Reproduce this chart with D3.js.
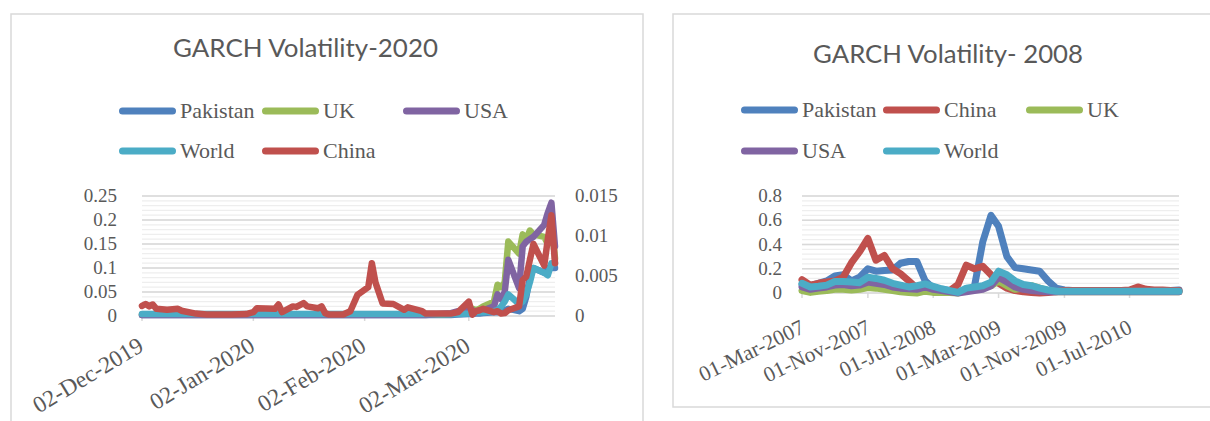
<!DOCTYPE html>
<html>
<head>
<meta charset="utf-8">
<script src="https://cdn.jsdelivr.net/npm/d3@7"></script>
<style>
  html, body { margin: 0; padding: 0; background: #fff; }
  svg { display: block; }
</style>
</head>
<body>
<svg id="chart" width="1210" height="421"></svg>
<script>
// ---------- GARCH volatility, COVID period (daily, Dec 2019 – Mar 2020) ----------
const covidDates = [
  "2019-12-02","2019-12-03","2019-12-04","2019-12-05","2019-12-06","2019-12-09","2019-12-12","2019-12-13",
  "2019-12-17","2019-12-20","2019-12-27","2019-12-31","2020-01-02","2020-01-03","2020-01-08","2020-01-09",
  "2020-01-10","2020-01-13","2020-01-14","2020-01-16","2020-01-17","2020-01-20","2020-01-21","2020-01-22",
  "2020-01-23","2020-01-27","2020-01-29","2020-01-31","2020-02-03","2020-02-04","2020-02-05","2020-02-07",
  "2020-02-10","2020-02-13","2020-02-14","2020-02-18","2020-02-19","2020-02-26","2020-02-28","2020-03-02",
  "2020-03-03","2020-03-04","2020-03-05","2020-03-06","2020-03-09","2020-03-10","2020-03-11","2020-03-12",
  "2020-03-13","2020-03-16","2020-03-17","2020-03-18","2020-03-19","2020-03-20","2020-03-23","2020-03-24",
  "2020-03-25","2020-03-26"
];
const covidPakistan = [
  0.002,0.002,0.002,0.002,0.002,0.002,0.002,0.002,0.002,0.002,0.002,0.002,0.002,0.002,0.002,0.002,
  0.002,0.002,0.002,0.002,0.002,0.002,0.002,0.002,0.002,0.002,0.002,0.002,0.002,0.002,0.002,0.002,
  0.002,0.002,0.002,0.002,0.002,0.002,0.003,0.004,0.004,0.005,0.005,0.006,0.008,0.008,0.010,0.012,
  0.015,0.010,0.015,0.040,0.080,0.100,0.090,0.100,0.100,0.100
];
const covidUK = [
  0.003,0.003,0.003,0.003,0.003,0.003,0.003,0.003,0.003,0.003,0.003,0.003,0.003,0.003,0.003,0.003,
  0.003,0.003,0.003,0.003,0.003,0.003,0.003,0.003,0.003,0.003,0.003,0.003,0.003,0.003,0.003,0.003,
  0.003,0.003,0.003,0.003,0.003,0.004,0.006,0.012,0.015,0.012,0.015,0.020,0.030,0.065,0.060,0.070,
  0.155,0.130,0.170,0.160,0.178,0.170,0.165,0.150,0.200,0.120
];
const covidUSA = [
  0.002,0.002,0.002,0.002,0.002,0.002,0.002,0.002,0.002,0.002,0.002,0.002,0.002,0.002,0.002,0.002,
  0.002,0.002,0.002,0.002,0.002,0.002,0.002,0.002,0.002,0.002,0.002,0.002,0.002,0.002,0.002,0.002,
  0.002,0.002,0.002,0.002,0.002,0.006,0.010,0.010,0.012,0.008,0.010,0.012,0.020,0.045,0.035,0.050,
  0.117,0.058,0.145,0.155,0.160,0.165,0.190,0.215,0.236,0.145
];
const covidWorld = [
  0.004,0.004,0.004,0.004,0.004,0.004,0.004,0.004,0.004,0.004,0.004,0.004,0.004,0.004,0.004,0.004,
  0.004,0.004,0.004,0.004,0.004,0.004,0.004,0.004,0.004,0.004,0.004,0.004,0.004,0.004,0.004,0.004,
  0.004,0.004,0.004,0.004,0.004,0.004,0.004,0.005,0.008,0.008,0.008,0.008,0.010,0.012,0.020,0.030,
  0.045,0.025,0.030,0.045,0.070,0.100,0.090,0.085,0.110,0.110
];
// China is plotted against the secondary (right-hand) axis
const covidChina = [
  0.00126,0.0015,0.0012,0.00144,0.0009,0.00078,0.0009,0.00066,0.0003,0.00018,0.00018,0.00024,
  0.00048,0.00096,0.0009,0.00144,0.00048,0.0012,0.00114,0.00162,0.0012,0.00096,0.0012,0.00036,
  0.00018,0.00018,0.0006,0.00264,0.0036,0.0066,0.0042,0.00156,0.0015,0.00078,0.00108,0.0006,
  0.0003,0.0003,0.00048,0.0018,0.00018,0.0006,0.00072,0.0009,0.00048,0.0006,0.0003,0.00036,
  0.00072,0.0012,0.0045,0.00492,0.00702,0.009,0.0063,0.0096,0.0126,0.0066
];
const covidDateTicks = ["2019-12-02","2020-01-02","2020-02-02","2020-03-02"];
const covidPrimaryTicks = [0, 0.05, 0.1, 0.15, 0.2, 0.25];
const covidSecondaryTicks = [0, 0.005, 0.01, 0.015];

// ---------- GARCH volatility, global financial crisis (monthly, 2007 – 2010) ----------
const gfcDates = [
  "2007-03-01","2007-04-01","2007-05-01","2007-06-01","2007-07-01","2007-08-01","2007-09-01","2007-10-01",
  "2007-11-01","2007-12-01","2008-01-01","2008-02-01","2008-03-01","2008-04-01","2008-05-01","2008-06-01",
  "2008-07-01","2008-08-01","2008-09-01","2008-10-01","2008-11-01","2008-12-01","2009-01-01","2009-02-01",
  "2009-03-01","2009-04-01","2009-05-01","2009-06-01","2009-07-01","2009-08-01","2009-09-01","2009-10-01",
  "2009-11-01","2009-12-01","2010-01-01","2010-02-01","2010-03-01","2010-04-01","2010-05-01","2010-06-01",
  "2010-07-01","2010-08-01","2010-09-01","2010-10-01","2010-11-01","2010-12-01","2011-01-01"
];
const gfcPakistan = [
  0.07,0.06,0.08,0.10,0.14,0.15,0.10,0.13,0.20,0.18,0.185,0.19,0.245,0.26,0.26,0.10,
  0.04,0.03,0.02,0.01,0.02,0.05,0.42,0.64,0.55,0.30,0.21,0.20,0.19,0.18,0.10,0.04,
  0.025,0.02,0.02,0.02,0.02,0.02,0.02,0.02,0.02,0.02,0.02,0.02,0.02,0.02,0.025
];
const gfcChina = [
  0.11,0.065,0.08,0.09,0.10,0.13,0.25,0.34,0.45,0.27,0.31,0.20,0.16,0.10,0.04,0.02,
  0.01,0.005,0.02,0.07,0.23,0.20,0.22,0.15,0.08,0.04,0.02,0.01,0.005,0.0,0.005,0.01,
  0.02,0.02,0.02,0.02,0.02,0.02,0.02,0.02,0.025,0.05,0.03,0.025,0.025,0.02,0.02
];
const gfcUK = [
  0.02,0.005,0.015,0.02,0.03,0.03,0.025,0.03,0.045,0.04,0.03,0.02,0.01,0.005,0.0,0.015,
  0.005,0.005,0.005,0.0,0.03,0.03,0.04,0.06,0.10,0.06,0.03,0.04,0.06,0.04,0.02,0.01,
  0.01,0.01,0.01,0.01,0.01,0.01,0.01,0.01,0.01,0.01,0.01,0.01,0.01,0.01,0.01
];
const gfcUSA = [
  0.05,0.03,0.04,0.05,0.065,0.07,0.06,0.065,0.09,0.08,0.07,0.05,0.04,0.035,0.03,0.05,
  0.03,0.02,0.01,0.0,0.01,0.02,0.03,0.06,0.13,0.09,0.05,0.03,0.02,0.015,0.01,0.01,
  0.01,0.01,0.01,0.01,0.01,0.01,0.01,0.01,0.01,0.01,0.01,0.01,0.01,0.01,0.01
];
const gfcWorld = [
  0.08,0.05,0.055,0.065,0.095,0.095,0.09,0.085,0.13,0.12,0.105,0.08,0.065,0.05,0.06,0.075,
  0.055,0.035,0.02,0.005,0.04,0.05,0.06,0.09,0.18,0.15,0.10,0.07,0.06,0.04,0.025,0.015,
  0.015,0.015,0.015,0.015,0.015,0.015,0.015,0.015,0.015,0.015,0.015,0.015,0.015,0.015,0.015
];
const gfcDateTicks = ["2007-03-01","2007-11-01","2008-07-01","2009-03-01","2009-11-01","2010-07-01"];
const gfcTicks = [0, 0.2, 0.4, 0.6, 0.8];

// Office palette
const COLORS = { Pakistan: "#4F81BD", UK: "#9BBB59", USA: "#8064A2", World: "#4BACC6", China: "#C0504D" };

const parseDate = d3.utcParse("%Y-%m-%d");
const fmtDate = d3.utcFormat("%d-%b-%Y");
const fmtNum = v => String(+v.toFixed(4));
const TEXT = "#595959";
const SERIF = "'Liberation Serif', 'Times New Roman', serif";

const svg = d3.select("#chart");

function drawPanel(o) {
  const g = svg.append("g");

  // chart frame
  g.append("rect")
    .attr("x", o.frame[0]).attr("y", o.frame[1])
    .attr("width", o.frame[2]).attr("height", o.frame[3])
    .attr("fill", "#fff").attr("stroke", "#d9d9d9").attr("stroke-width", 1.5);

  // title, sized to its box width
  const title = g.append("text")
    .attr("x", o.title.x).attr("y", o.title.y)
    .attr("text-anchor", "middle")
    .attr("font-family", "Lato, 'Open Sans', sans-serif")
    .attr("font-size", 26).attr("fill", TEXT)
    .text(o.title.text);
  const tw = title.node().getComputedTextLength();
  title.attr("font-size", 26 * o.title.width / tw);

  // legend
  o.series.forEach((s, i) => {
    const p = o.legend[i];
    g.append("line")
      .attr("x1", p.x + 3.5).attr("x2", p.x + 53.5)
      .attr("y1", p.y).attr("y2", p.y)
      .attr("stroke", COLORS[s.name]).attr("stroke-width", 7)
      .attr("stroke-linecap", "round");
    g.append("text")
      .attr("x", p.x + 61).attr("y", p.y + 7)
      .attr("font-family", SERIF).attr("font-size", 22).attr("fill", TEXT)
      .text(s.name);
  });

  const dates = o.dates.map(parseDate);
  const x = d3.scaleUtc()
    .domain([dates[0], dates[dates.length - 1]])
    .range([o.plot.left, o.plot.right]);
  const y = d3.scaleLinear().domain([0, o.yMax]).range([o.plot.bottom, o.plot.top]);
  const y2 = o.y2Max ? d3.scaleLinear().domain([0, o.y2Max]).range([o.plot.bottom, o.plot.top]) : null;

  // minor then major horizontal gridlines
  const minor = d3.range(0, o.yMax + 1e-9, o.minorStep);
  g.append("g").selectAll("line").data(minor).join("line")
    .attr("x1", o.plot.left).attr("x2", o.plot.right)
    .attr("y1", d => y(d)).attr("y2", d => y(d))
    .attr("stroke", "#eeeeee").attr("stroke-width", 1.3);
  g.append("g").selectAll("line").data(o.yTicks).join("line")
    .attr("x1", o.plot.left).attr("x2", o.plot.right)
    .attr("y1", d => y(d)).attr("y2", d => y(d))
    .attr("stroke", "#d9d9d9").attr("stroke-width", 1.6);

  // left value axis labels
  g.append("g").selectAll("text").data(o.yTicks).join("text")
    .attr("x", o.plot.left - o.yLabelGap).attr("y", d => y(d) + 6)
    .attr("text-anchor", "end")
    .attr("font-family", SERIF).attr("font-size", 19).attr("fill", TEXT)
    .text(fmtNum);

  // secondary value axis labels
  if (y2) {
    g.append("g").selectAll("text").data(o.y2Ticks).join("text")
      .attr("x", o.plot.right + 20).attr("y", d => y2(d) + 6)
      .attr("text-anchor", "start")
      .attr("font-family", SERIF).attr("font-size", 19).attr("fill", TEXT)
      .text(fmtNum);
  }

  // date axis: tick marks and rotated labels
  const ticks = o.dateTicks.map(parseDate);
  g.append("g").selectAll("line").data(ticks).join("line")
    .attr("x1", d => x(d)).attr("x2", d => x(d))
    .attr("y1", o.plot.bottom).attr("y2", o.plot.bottom + 5)
    .attr("stroke", "#d9d9d9").attr("stroke-width", 1.5);
  g.append("g").selectAll("text").data(ticks).join("text")
    .attr("transform", d => `translate(${x(d) + o.labelDx},${o.plot.bottom + o.labelDy}) rotate(${o.labelAngle})`)
    .attr("text-anchor", "end")
    .attr("font-family", SERIF).attr("font-size", o.labelSize).attr("fill", TEXT)
    .text(fmtDate);

  // series lines
  const lines = g.append("g")
    .attr("fill", "none")
    .attr("stroke-linejoin", "round").attr("stroke-linecap", "round");
  o.drawOrder.forEach(name => {
    const s = o.series.find(v => v.name === name);
    const ys = s.secondary ? y2 : y;
    const line = d3.line().x((d, i) => x(dates[i])).y(d => ys(d));
    lines.append("path")
      .attr("d", line(s.values))
      .attr("stroke", COLORS[s.name])
      .attr("stroke-width", o.lineWidth);
  });
}

drawPanel({
  frame: [11, 14, 632, 430],
  title: { text: "GARCH Volatility-2020", x: 305.5, y: 57, width: 265 },
  series: [
    { name: "Pakistan", values: covidPakistan },
    { name: "UK", values: covidUK },
    { name: "USA", values: covidUSA },
    { name: "World", values: covidWorld },
    { name: "China", values: covidChina, secondary: true }
  ],
  drawOrder: ["Pakistan", "UK", "USA", "World", "China"],
  legend: [ {x: 119, y: 111}, {x: 262, y: 111}, {x: 403, y: 111}, {x: 119, y: 151}, {x: 262, y: 151} ],
  dates: covidDates,
  dateTicks: covidDateTicks,
  plot: { left: 142, right: 555, top: 196, bottom: 316 },
  yMax: 0.25, yTicks: covidPrimaryTicks, minorStep: 0.01, yLabelGap: 25,
  y2Max: 0.015, y2Ticks: covidSecondaryTicks,
  labelAngle: -31, labelDx: 3, labelDy: 34, labelSize: 23.5,
  lineWidth: 6.5
});

drawPanel({
  frame: [673, 14, 560, 393],
  title: { text: "GARCH Volatility- 2008", x: 948, y: 63, width: 270 },
  series: [
    { name: "Pakistan", values: gfcPakistan },
    { name: "China", values: gfcChina },
    { name: "UK", values: gfcUK },
    { name: "USA", values: gfcUSA },
    { name: "World", values: gfcWorld }
  ],
  drawOrder: ["Pakistan", "China", "UK", "USA", "World"],
  legend: [ {x: 741, y: 110}, {x: 883, y: 110}, {x: 1026, y: 110}, {x: 741, y: 151}, {x: 883, y: 151} ],
  dates: gfcDates,
  dateTicks: gfcDateTicks,
  plot: { left: 802, right: 1179, top: 196, bottom: 293 },
  yMax: 0.8, yTicks: gfcTicks, minorStep: 0.04, yLabelGap: 20,
  labelAngle: -26, labelDx: 4, labelDy: 39, labelSize: 21.5,
  lineWidth: 7
});
</script>
</body>
</html>
